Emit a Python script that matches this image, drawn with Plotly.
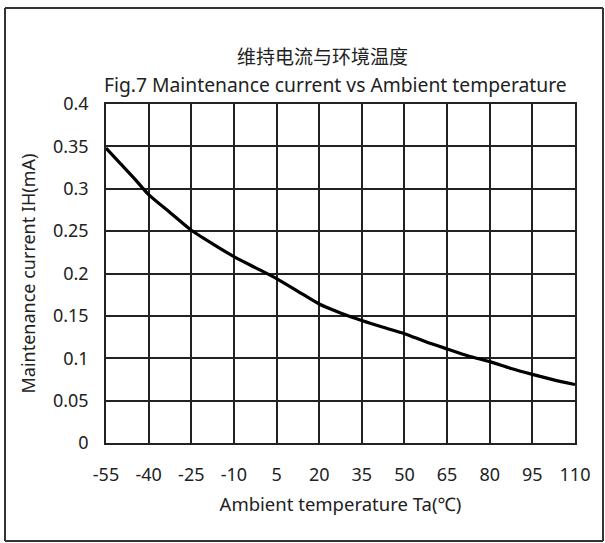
import plotly.graph_objects as go

temps = [-55, -50, -45, -40, -32.5, -25, -17.5, -10, -2.5, 5, 12.5, 20, 27.5, 35, 42.5, 50, 57.5, 65, 72.5, 80, 87.5, 95, 102.5, 110]
current = [0.348, 0.330, 0.312, 0.293, 0.272, 0.251, 0.235, 0.220, 0.207, 0.194, 0.179, 0.164, 0.1535, 0.1445, 0.1365, 0.129,
           0.1195, 0.111, 0.1026, 0.096, 0.088, 0.081, 0.0745, 0.069]
x_ticks = [-55, -40, -25, -10, 5, 20, 35, 50, 65, 80, 95, 110]
x_labels = ["-55", "-40", "-25", "-10", "5", "20", "35", "50", "65", "80", "95", "110"]
y_ticks = [0, 0.05, 0.1, 0.15, 0.2, 0.25, 0.3, 0.35, 0.4]
y_labels = ["0", "0.05", "0.1", "0.15", "0.2", "0.25", "0.3", "0.35", "0.4"]

W, H = 605, 543
L, R, T, B = 106, 575, 104, 443

fig = go.Figure()
fig.add_trace(go.Scatter(x=temps, y=current, mode="lines",
                         line=dict(color="black", width=3.2, shape="spline", smoothing=0.6),
                         showlegend=False, hoverinfo="skip"))

font = "Noto Sans, Noto Sans CJK SC, sans-serif"
fig.update_layout(
    width=W, height=H,
    margin=dict(l=L, r=W - R, t=T, b=H - B),
    paper_bgcolor="white", plot_bgcolor="white",
    font=dict(family=font, size=18, color="#222"),
    xaxis=dict(range=[-55, 110], tickvals=x_ticks, ticktext=x_labels, showgrid=True, gridcolor="#222",
               gridwidth=1.5, zeroline=False, showline=True, linecolor="#222", linewidth=1.5, mirror=True,
               ticks="", ticklabelstandoff=15, tickfont=dict(size=18),
               title=dict(text="Ambient temperature Ta(℃)", standoff=13, font=dict(size=18.5))),
    yaxis=dict(range=[0, 0.4], tickvals=y_ticks, ticktext=y_labels, showgrid=True, gridcolor="#222",
               gridwidth=1.5, zeroline=False, showline=True, linecolor="#222", linewidth=1.5, mirror=True,
               ticks="", ticklabelstandoff=12, tickfont=dict(size=18),
               title=dict(text="Maintenance current IH(mA)", standoff=13, font=dict(size=18))),
)

def px(x):
    return (x - L) / (R - L)

def py(y):
    return (B - y) / (B - T)

fig.add_annotation(text="维持电流与环境温度", xref="paper", yref="paper", x=px(322), y=py(40),
                   showarrow=False, font=dict(size=19, family="Noto Sans CJK SC"))
fig.add_annotation(text="Fig.7 Maintenance current vs Ambient temperature", xref="paper", yref="paper",
                   x=px(335), y=py(69), xanchor="center", showarrow=False, font=dict(size=19.3, family=font))
frame = dict(color="#333", width=2)
top = 8
fig.add_shape(type="line", xref="paper", yref="paper", x0=px(5), x1=px(603), y0=py(top), y1=py(top), line=frame)
fig.add_shape(type="line", xref="paper", yref="paper", x0=px(5), x1=px(603), y0=py(541), y1=py(541), line=frame)
fig.add_shape(type="line", xref="paper", yref="paper", x0=px(5), x1=px(5), y0=py(top), y1=py(541), line=frame)
fig.add_shape(type="line", xref="paper", yref="paper", x0=px(603), x1=px(603), y0=py(top), y1=py(541), line=frame)

fig.write_html("out.html", config={"displayModeBar": False},
               post_script="document.body.style.margin='0';document.body.style.padding='0';")
